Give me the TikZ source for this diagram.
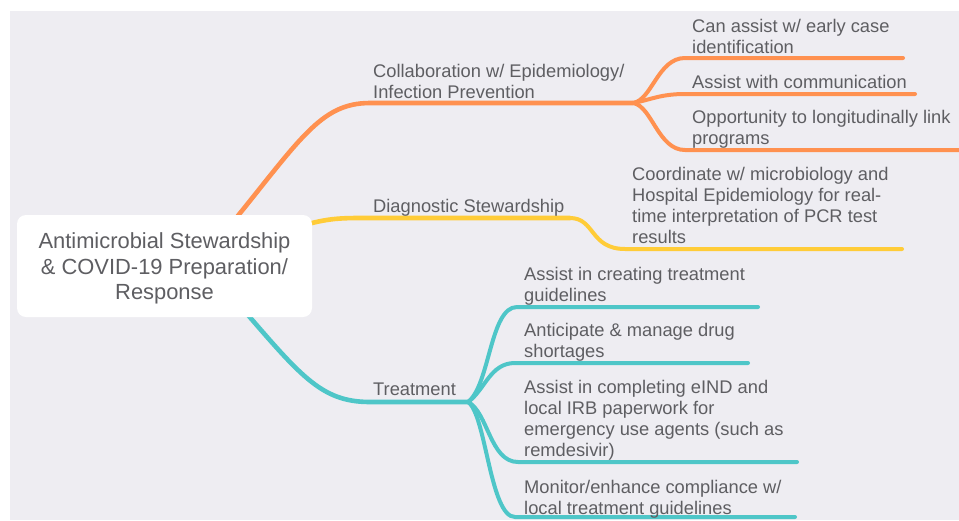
\documentclass[tikz,border=0pt]{standalone}
\usepackage{fontspec}
\setmainfont{Liberation Sans}
\definecolor{panel}{HTML}{EEEDF2}
\definecolor{txt}{HTML}{5E5E62}
\definecolor{cOr}{HTML}{FF9150}
\definecolor{cYe}{HTML}{FFCC38}
\definecolor{cTe}{HTML}{4EC6C8}
\begin{document}
\begin{tikzpicture}[x=1pt,y=-1pt,
  lbl/.style={anchor=base west,inner sep=0pt,align=left,text=txt,font=\fontsize{18.3}{21}\selectfont},
  rootbox/.style={fill=white,rounded corners=9pt,inner sep=0pt,minimum width=295pt,minimum height=102pt,text=txt,font=\fontsize{21.9}{25.3}\selectfont},
  mainln/.style={line width=4.6pt,line cap=round},
  subln/.style={line width=4pt,line cap=round}]
\useasboundingbox (0,0) rectangle (959,520);
\fill[white] (0,0) rectangle (959,520);
\fill[panel] (10,11) rectangle (959,520);
% coordinates
\coordinate (oS) at (228,228);
\coordinate (oB) at (633,103);
\coordinate (yS) at (280,232);
\coordinate (tS) at (235,300);
\coordinate (tB) at (468,402);
\coordinate (o1e) at (903,58);
\coordinate (o2e) at (915,94);
\coordinate (o3e) at (962,150);
\coordinate (y1e) at (902,249);
\coordinate (t1e) at (758,307);
\coordinate (t2e) at (748,363);
\coordinate (t3e) at (797,462);
\coordinate (t4e) at (795,517);
% orange branch
\draw[cOr,mainln] (oS) .. controls (300,140) and (320,103) .. (370,103) -- (oB);
\draw[cOr,subln] (oB) .. controls (652,100) and (658,58) .. (685,58) -- (o1e);
\draw[cOr,subln] (oB) .. controls (650,100) and (660,94) .. (685,94) -- (o2e);
\draw[cOr,subln] (oB) .. controls (652,106) and (658,150) .. (685,150) -- (o3e);
% yellow branch
\draw[cYe,mainln] (yS) .. controls (320,220) and (330,218) .. (360,218) -- (570,218);
\draw[cYe,subln] (570,218) .. controls (595,218) and (590,249) .. (625,249) -- (y1e);
% teal branch
\draw[cTe,mainln] (tS) .. controls (300,375) and (320,402) .. (370,402) -- (tB);
\draw[cTe,subln] (tB) .. controls (490,385) and (490,307) .. (517,307) -- (t1e);
\draw[cTe,subln] (tB) .. controls (485,390) and (490,363) .. (515,363) -- (t2e);
\draw[cTe,subln] (tB) .. controls (488,412) and (490,462) .. (518,462) -- (t3e);
\draw[cTe,subln] (tB) .. controls (486,414) and (490,517) .. (515,517) -- (t4e);
% root
\node[rootbox] (root) at (164.5,266) {\raisebox{-3pt}[\height][\depth]{\begin{tabular}{@{}c@{}}Antimicrobial Stewardship\\\& COVID-19 Preparation/\\Response\end{tabular}}};
% labels
\node[lbl] (collab) at (373,98) {Collaboration w/ Epidemiology/\\Infection Prevention};
\node[lbl] (diag) at (373,212) {Diagnostic Stewardship};
\node[lbl] (treat) at (373,395) {Treatment};
\node[lbl] (o1) at (692,53) {Can assist w/ early case\\identification};
\node[lbl] (o2) at (692,88) {Assist with communication};
\node[lbl] (o3) at (692,144) {Opportunity to longitudinally link\\programs};
\node[lbl] (y1) at (632,243) {Coordinate w/ microbiology and\\Hospital Epidemiology for real-\\time interpretation of PCR test\\results};
\node[lbl] (t1) at (524,301) {Assist in creating treatment\\guidelines};
\node[lbl] (t2) at (524,357) {Anticipate \& manage drug\\shortages};
\node[lbl] (t3) at (524,456) {Assist in completing eIND and\\local IRB paperwork for\\emergency use agents (such as\\remdesivir)};
\node[lbl] (t4) at (524,514) {Monitor/enhance compliance w/\\local treatment guidelines};
\end{tikzpicture}
\end{document}
